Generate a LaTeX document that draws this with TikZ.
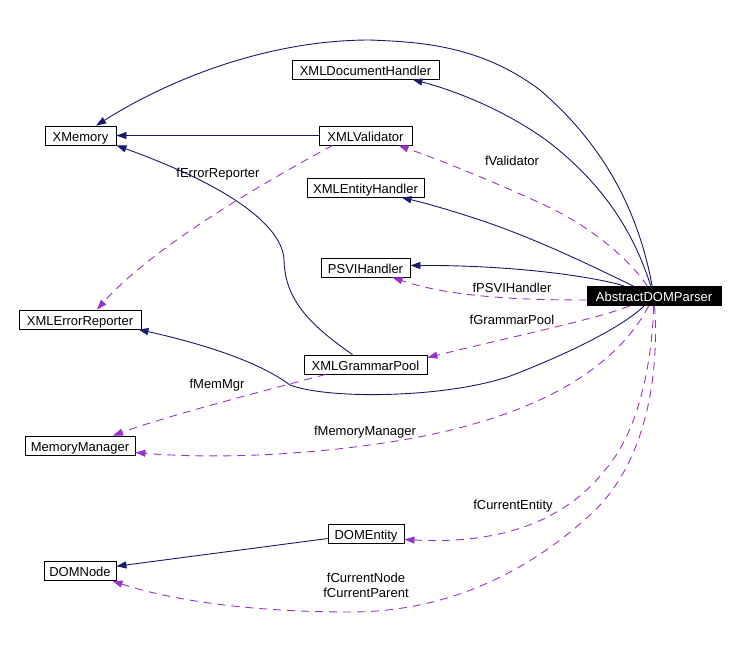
\documentclass[tikz,border=0pt]{standalone}
\usepackage{fontspec}
\setmainfont{Liberation Sans}
\usetikzlibrary{arrows.meta}
\definecolor{navyline}{HTML}{191970}
\definecolor{dpurple}{HTML}{9A32CD}
\begin{document}
\begin{tikzpicture}[x=1pt,y=-1pt,
  cls/.style={draw=black, line width=0.9pt, fill=white, minimum height=19pt, inner xsep=2pt, inner ysep=0pt, text height=11pt, text depth=0pt, font=\fontsize{13}{15}\selectfont, text=black},
  lbl/.style={font=\fontsize{13}{15}\selectfont, inner sep=0pt, align=center, text=black},
  inh/.style={draw=navyline, line width=0.9pt, -{Triangle[length=10pt,width=7pt]}},
  use/.style={draw=dpurple, line width=0.9pt, dash pattern=on 8pt off 6pt, -{Triangle[length=10pt,width=7pt]}}]
\useasboundingbox[fill=white] (0,0) rectangle (737,657);

% nodes
\node[cls, minimum width=71pt]  (xm)   at (80.5,135.5) {XMemory};
\node[cls, minimum width=147pt] (xdh)  at (365.5,69.5) {XMLDocumentHandler};
\node[cls, minimum width=93pt]  (xv)   at (365.5,135.5) {XMLValidator};
\node[cls, minimum width=117pt] (xeh)  at (365.5,187.5) {XMLEntityHandler};
\node[cls, minimum width=89pt]  (psvi) at (365.5,267.5) {PSVIHandler};
\node[cls, minimum width=134pt, fill=black, text=white] (adp) at (654,296) {AbstractDOMParser};
\node[cls, minimum width=122pt] (xer)  at (80,319.5) {XMLErrorReporter};
\node[cls, minimum width=123pt] (xgp)  at (365.5,364.5) {XMLGrammarPool};
\node[cls, minimum width=110pt] (mm)   at (80,445.5) {MemoryManager};
\node[cls, minimum width=76pt]  (de)   at (366,533.5) {DOMEntity};
\node[cls, minimum width=72pt]  (dn)   at (80,571) {DOMNode};

% inheritance / solid edges
\draw[inh] (adp) .. controls (640,220) and (610,150) .. (540,90)
  .. controls (480,45) and (420,42) .. (370,40)
  .. controls (260,40) and (160,85) .. (xm);
\draw[inh] (adp) .. controls (636,240) and (610,190) .. (550,143)
  .. controls (510,113) and (460,92) .. ([xshift=47pt]xdh.south);
\draw[inh] (xv) -- (xm);
\draw[inh] ([xshift=-13pt]xgp.north) .. controls (310,325) and (285,300) .. (284,260)
  .. controls (283,230) and (240,190) .. (xm.south east);
\draw[inh] (adp) .. controls (600,270) and (540,240) .. (480,220)
  .. controls (450,210) and (425,203) .. ([xshift=36pt]xeh.south);
\draw[inh] (adp) .. controls (600,278) and (520,265) .. ([yshift=2pt]psvi.east);
\draw[inh] (adp) .. controls (630,320) and (590,345) .. (513,375)
  .. controls (450,398) and (330,400) .. (290,385)
  .. controls (270,370) and (230,350) .. ([xshift=-3pt]xer.south east);
\draw[inh] (de) -- (dn);

% usage / dashed edges
\draw[use] (adp) .. controls (630,260) and (590,225) .. (540,203)
  .. controls (490,180) and (440,160) .. ([xshift=33pt]xv.south);
\draw[use] ([xshift=-33pt]xv.south) .. controls (250,190) and (150,250) .. ([xshift=17pt]xer.north);
\draw[use] ([yshift=-4pt]adp.west) .. controls (520,300) and (450,297) .. ([xshift=27pt]psvi.south);
\draw[use] (adp) .. controls (600,318) and (520,335) .. ([yshift=7pt]xgp.east);
\draw[use] ([xshift=-40pt]xgp.south) .. controls (260,392) and (170,415) .. ([xshift=33pt]mm.north);
\draw[use] (adp) .. controls (620,360) and (560,400) .. (470,425)
  .. controls (390,448) and (250,462) .. ([yshift=-7pt]mm.east);
\draw[use] (adp) .. controls (652,360) and (640,430) .. (605,470)
  .. controls (570,515) and (510,545) .. ([yshift=-6pt]de.east);
\draw[use] (adp) .. controls (660,390) and (640,470) .. (590,515)
  .. controls (530,570) and (450,612) .. (350,612)
  .. controls (250,612) and (170,600) .. ([xshift=-4pt]dn.south east);

% labels
\node[lbl] (lval) at (512,161) {fValidator};
\node[lbl] (lerr) at (218,174) {fErrorReporter};
\node[lbl] (lpsvi) at (512,288) {fPSVIHandler};
\node[lbl] (lgp) at (512,320) {fGrammarPool};
\node[lbl] (lmmg) at (217,385) {fMemMgr};
\node[lbl] (lmm) at (365,432) {fMemoryManager};
\node[lbl] (lce) at (513,506) {fCurrentEntity};
\node[lbl] (lcn) at (366,585.5) {fCurrentNode\\fCurrentParent};
\end{tikzpicture}
\end{document}
